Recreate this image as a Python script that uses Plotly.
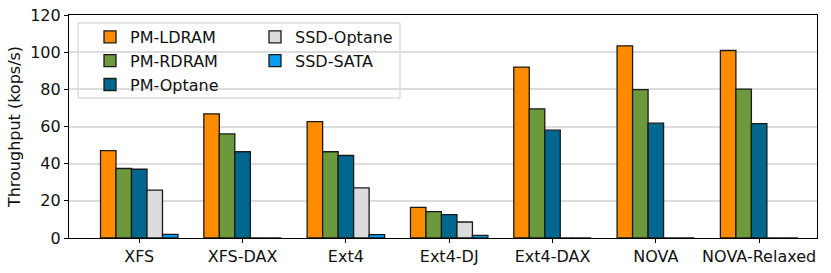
import plotly.graph_objects as go

categories = ["XFS", "XFS-DAX", "Ext4", "Ext4-DJ", "Ext4-DAX", "NOVA", "NOVA-Relaxed"]
series_names = ["PM-LDRAM", "PM-RDRAM", "PM-Optane", "SSD-Optane", "SSD-SATA"]
pm_ldram = [47.0, 66.8, 62.6, 16.5, 92.0, 103.4, 100.9]
pm_rdram = [37.4, 56.0, 46.4, 14.2, 69.5, 79.8, 80.1]
pm_optane = [37.0, 46.4, 44.4, 12.6, 58.0, 61.8, 61.6]
ssd_optane = [25.8, 0, 27.0, 8.6, 0, 0, 0]
ssd_sata = [1.9, 0, 1.8, 1.4, 0, 0, 0]
yticks = [0, 20, 40, 60, 80, 100, 120]

colors = ["#FF8C00", "#6B993C", "#00688F", "#DCDCDC", "#0A9BF3"]
values = [pm_ldram, pm_rdram, pm_optane, ssd_optane, ssd_sata]
legends = ["legend", "legend", "legend", "legend2", "legend2"]

FONT = "DejaVu Sans"
FS = 16
x_idx = list(range(len(categories)))

fig = go.Figure()
for i, (name, vals, col, lg) in enumerate(zip(series_names, values, colors, legends)):
    fig.add_trace(go.Bar(
        x=x_idx, y=vals, name=name, legend=lg, legendgroup=name,
        marker=dict(color=col, line=dict(color="#1a1a1a", width=1.3)),
    ))

W, H = 831, 273
ml, mr, mt, mb = 69, 14, 15, 35
pw, ph = W - ml - mr, H - mt - mb

def px_x(x):
    return (x - ml) / pw

def px_y(y):
    return (H - mb - y) / ph

fig.update_layout(
    width=W, height=H,
    margin=dict(l=ml, r=mr, t=mt, b=mb, pad=0, autoexpand=False),
    paper_bgcolor="white", plot_bgcolor="white",
    font=dict(family=FONT, size=FS, color="#111111"),
    barmode="group", bargap=0.25, bargroupgap=0,
    showlegend=True,
    legend=dict(x=px_x(90), y=px_y(20), xanchor="left", yanchor="top",
                bgcolor="rgba(0,0,0,0)", borderwidth=0, tracegroupgap=0,
                font=dict(size=FS, family=FONT), traceorder="grouped"),
    legend2=dict(x=px_x(255), y=px_y(20), xanchor="left", yanchor="top",
                 bgcolor="rgba(0,0,0,0)", borderwidth=0, tracegroupgap=0,
                 font=dict(size=FS, family=FONT), traceorder="grouped"),
    xaxis=dict(
        range=[-0.68, 6.56], tickmode="array", tickvals=x_idx, ticktext=categories,
        showgrid=False, zeroline=False, showline=True, linecolor="black", linewidth=1.2,
        mirror=True, ticks="outside", ticklen=4, tickcolor="black", tickwidth=1,
        tickfont=dict(size=FS, family=FONT), automargin=False,
    ),
    yaxis=dict(
        range=[0, 120], tickmode="array", tickvals=yticks,
        showgrid=True, gridcolor="#DDDDDD", gridwidth=1.5, zeroline=False,
        showline=True, linecolor="black", linewidth=1.2, mirror=True,
        ticks="outside", ticklen=4, tickcolor="black", tickwidth=1,
        tickfont=dict(size=FS, family=FONT), automargin=False,
        title=dict(text="Throughput (kops/s)", font=dict(size=FS, family=FONT), standoff=5),
    ),
    shapes=[dict(
        type="rect", xref="paper", yref="paper", layer="below",
        x0=px_x(78), x1=px_x(400), y0=px_y(98), y1=px_y(23),
        line=dict(color="#CCCCCC", width=1), fillcolor="rgba(255,255,255,0.8)",
    )],
)

fig.write_html("out.html", config={"displayModeBar": False},
               post_script="document.body.style.margin='0px';")
